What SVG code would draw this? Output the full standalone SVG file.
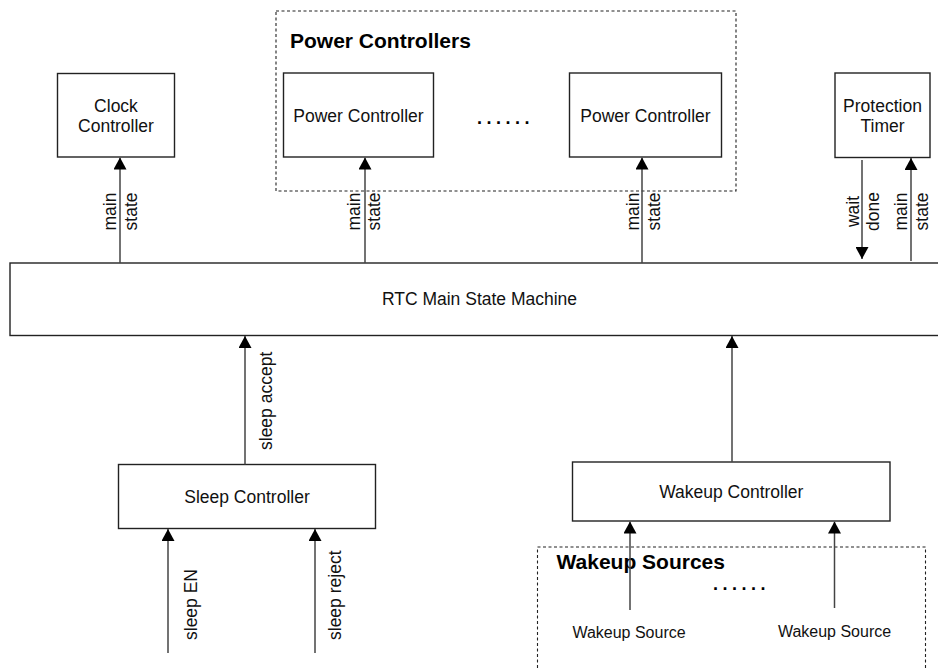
<svg xmlns="http://www.w3.org/2000/svg" width="938" height="668" viewBox="0 0 938 668">
<style>
.box{fill:#fff;stroke:#222;stroke-width:1.4}
.grp{fill:none;stroke:#222;stroke-width:1.1;stroke-dasharray:3 2.5}
.t{font-family:"Liberation Sans",Arial,Helvetica,sans-serif;font-size:17.5px;fill:#111}
.ts{font-family:"Liberation Sans",Arial,Helvetica,sans-serif;font-size:16px;fill:#111}
.tb{font-family:"Liberation Sans",Arial,Helvetica,sans-serif;font-size:21px;font-weight:bold;fill:#000}
.dots{font-family:"Liberation Sans",Arial,Helvetica,sans-serif;font-size:18px;font-weight:bold;letter-spacing:4.5px;fill:#000}
.c{text-anchor:middle}
.ln{fill:none;stroke:#444;stroke-width:1.5;marker-end:url(#ah)}
</style>
<defs>
<marker id="ah" viewBox="0 0 12 13" refX="12" refY="6.5" markerWidth="12" markerHeight="13" markerUnits="userSpaceOnUse" orient="auto">
<path d="M0,0 L12,6.5 L0,13 z" fill="#000"/>
</marker>
</defs>

<g id="power-controllers-group">
<rect class="grp" x="276" y="11" width="460" height="180"/>
<text class="tb" x="290" y="48">Power Controllers</text>
<text class="dots" x="477" y="124">......</text>
</g>

<g id="wakeup-sources-group">
<rect class="grp" x="537.5" y="547" width="388" height="140"/>
<text class="tb" x="556.5" y="569">Wakeup Sources</text>
<text class="dots" x="713" y="590">......</text>
</g>

<g id="clock-controller">
<rect class="box" x="57.5" y="73.5" width="117" height="83.5"/>
<text class="t c" x="116" y="111.5">Clock</text>
<text class="t c" x="116" y="132.3">Controller</text>
</g>

<g id="power-controller-1">
<rect class="box" x="283.5" y="73" width="150" height="84"/>
<text class="t c" x="358.5" y="122.3">Power Controller</text>
</g>

<g id="power-controller-2">
<rect class="box" x="569.5" y="73" width="152" height="84"/>
<text class="t c" x="645.5" y="122.3">Power Controller</text>
</g>

<g id="protection-timer">
<rect class="box" x="835" y="73" width="95" height="84.5"/>
<text class="t c" x="882.5" y="111.7">Protection</text>
<text class="t c" x="882.5" y="131.7">Timer</text>
</g>

<g id="rtc-main-state-machine">
<rect class="box" x="10" y="263" width="940" height="72.5"/>
<text class="t c" x="479.5" y="305">RTC Main State Machine</text>
</g>

<g id="sleep-controller">
<rect class="box" x="118.5" y="464.5" width="257" height="64"/>
<text class="t c" x="247" y="503.3">Sleep Controller</text>
</g>

<g id="wakeup-controller">
<rect class="box" x="572.5" y="462" width="317.5" height="59"/>
<text class="t c" x="731.3" y="498.3">Wakeup Controller</text>
</g>

<g id="wakeup-source-1">
<text class="ts c" x="629" y="638.3">Wakeup Source</text>
</g>

<g id="wakeup-source-2">
<text class="ts c" x="834.5" y="637.3">Wakeup Source</text>
</g>

<g id="connectors">
<path class="ln" d="M120,263 L120,157.5"/>
<path class="ln" d="M365,263 L365,157.5"/>
<path class="ln" d="M642,263 L642,157.5"/>
<path class="ln" d="M862,160 L862,259"/>
<path class="ln" d="M911,261 L911,158"/>
<path class="ln" d="M245,464.5 L245,336"/>
<path class="ln" d="M732,462 L732,336"/>
<path class="ln" d="M168,653 L168,529"/>
<path class="ln" d="M315,653 L315,529"/>
<path class="ln" d="M630,610 L630,521.5"/>
<path class="ln" d="M834.5,608 L834.5,521.5"/>

<text class="t c" transform="translate(115.5,211.5) rotate(-90)">main</text>
<text class="t c" transform="translate(137,211.5) rotate(-90)">state</text>
<text class="t c" transform="translate(359.5,211.5) rotate(-90)">main</text>
<text class="t c" transform="translate(380,211.5) rotate(-90)">state</text>
<text class="t c" transform="translate(639,211.5) rotate(-90)">main</text>
<text class="t c" transform="translate(660,211.5) rotate(-90)">state</text>
<text class="t c" transform="translate(858.5,211.5) rotate(-90)">wait</text>
<text class="t c" transform="translate(879,211.5) rotate(-90)">done</text>
<text class="t c" transform="translate(906.5,211.5) rotate(-90)">main</text>
<text class="t c" transform="translate(928,211.5) rotate(-90)">state</text>
<text class="t" transform="translate(272,450) rotate(-90)">sleep accept</text>
<text class="t" transform="translate(196.5,640) rotate(-90)">sleep EN</text>
<text class="t" transform="translate(341,640) rotate(-90)">sleep reject</text>
</g>
</svg>
